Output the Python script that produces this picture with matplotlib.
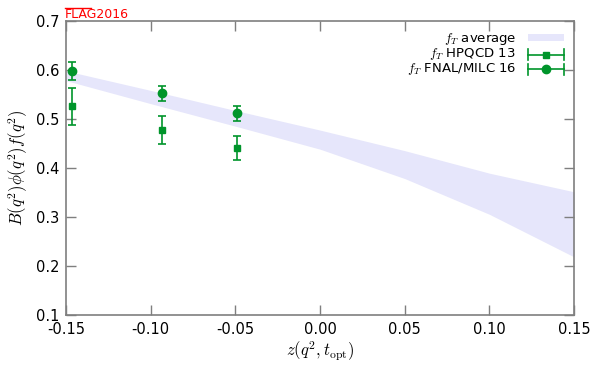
import numpy as np
import matplotlib
matplotlib.use('Agg')
from matplotlib import pyplot as plt
from matplotlib.lines import Line2D
from matplotlib.legend_handler import HandlerBase

plt.rcParams['mathtext.fontset'] = 'cm'
plt.rcParams['font.family'] = ['DejaVu Sans']

# average band (z grid with upper / lower edges)
band_z = [-0.15, -0.10, -0.05, 0.0, 0.05, 0.10, 0.15]
band_hi = [0.598, 0.558, 0.517, 0.477, 0.435, 0.389, 0.351]
band_lo = [0.578, 0.531, 0.485, 0.438, 0.378, 0.305, 0.218]

# HPQCD 13
hp_z = [-0.1466, -0.0933, -0.049]
hp_val = [0.527, 0.478, 0.441]
hp_up = [0.563, 0.505, 0.465]
hp_dn = [0.488, 0.449, 0.416]

# FNAL/MILC 16
fm_z = [-0.1466, -0.0933, -0.049]
fm_val = [0.597, 0.552, 0.511]
fm_up = [0.616, 0.568, 0.527]
fm_dn = [0.579, 0.537, 0.495]

green = '#00952b'
gray = '#7f7f7f'


# gnuplot-like legend key: horizontal bar with caps, marker in middle
class HBarHandler(HandlerBase):
    def create_artists(self, legend, orig, xd, yd, w, h, fontsize, trans):
        y = yd + h / 2
        c = orig.get_color()
        cap = 4.0
        arts = [Line2D([xd, xd + w], [y, y], color=c, lw=1.2),
                Line2D([xd, xd], [y - cap, y + cap], color=c, lw=1.2),
                Line2D([xd + w, xd + w], [y - cap, y + cap], color=c, lw=1.2),
                Line2D([xd + w / 2], [y], marker=orig.get_marker(), color=c,
                       ms=orig.get_markersize(), ls='none')]
        for a in arts:
            a.set_transform(trans)
        return arts


fig = plt.figure(figsize=(6, 3.66), dpi=100)
ax = fig.add_axes([0.11, 0.14, 0.847, 0.803])

band = ax.fill_between(band_z, band_lo, band_hi, color='#e6e6fb', lw=0)

hp_err = [np.array(hp_val) - np.array(hp_dn), np.array(hp_up) - np.array(hp_val)]
fm_err = [np.array(fm_val) - np.array(fm_dn), np.array(fm_up) - np.array(fm_val)]
ax.errorbar(hp_z, hp_val, yerr=hp_err, fmt='s', color=green, ms=5, capsize=3,
            elinewidth=1.2, capthick=1.2)
ax.errorbar(fm_z, fm_val, yerr=fm_err, fmt='o', color=green, ms=6, capsize=3,
            elinewidth=1.2, capthick=1.2)

ax.set_xlim(-0.15, 0.15)
ax.set_ylim(0.1, 0.7)
ax.set_xticks(np.arange(-0.15, 0.151, 0.05))
ax.set_xticklabels(['-0.15', '-0.10', '-0.05', '0.00', '0.05', '0.10', '0.15'])
ax.set_yticks(np.arange(0.1, 0.701, 0.1))
ax.set_yticklabels(['0.1', '0.2', '0.3', '0.4', '0.5', '0.6', '0.7'])
ax.tick_params(direction='in', top=True, right=True, length=7, width=1,
               color=gray, labelsize=10.5, pad=5)
for s in ax.spines.values():
    s.set_color(gray)
    s.set_linewidth(1.2)

ax.set_xlabel(r'$z(q^2,t_{\rm opt})$', fontsize=12, labelpad=2)
ax.set_ylabel(r'$B(q^2)\phi(q^2)f(q^2)$', fontsize=12, labelpad=4)

k_hp = Line2D([], [], color=green, marker='s', ms=5)
k_fm = Line2D([], [], color=green, marker='o', ms=6)
leg = ax.legend([band, k_hp, k_fm],
                [r'$f_T$ average', r'$f_T$ HPQCD 13', r'$f_T$ FNAL/MILC 16'],
                loc='upper right', markerfirst=False, frameon=False,
                fontsize=9.5, handlelength=2.7, handleheight=0.5,
                borderaxespad=0.3, borderpad=0.5, labelspacing=-0.08,
                handletextpad=0.9,
                handler_map={k_hp: HBarHandler(), k_fm: HBarHandler()})

# FLAG logo
fig.text(0.108, 1 - 17.5 / 366, 'FLAG2016', color='red', fontsize=9,
         ha='left', va='baseline')
fig.add_artist(Line2D([0.109, 0.152], [1.0 - 7.5 / 366] * 2, color='red', lw=1,
                      transform=fig.transFigure))

fig.savefig('out.png', dpi=100)
